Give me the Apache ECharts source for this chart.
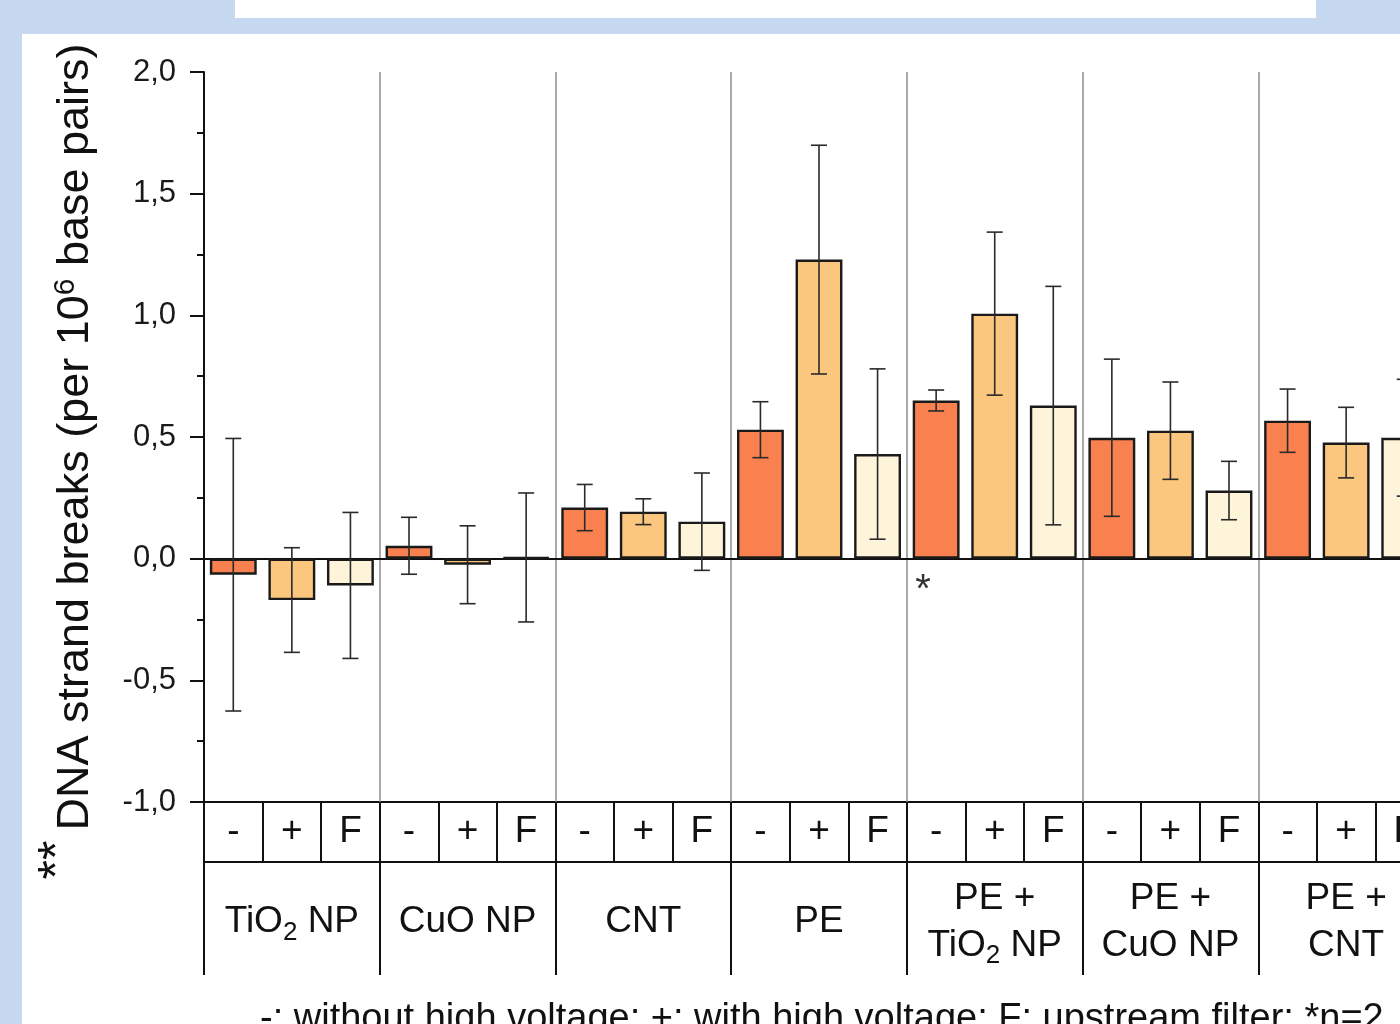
<!DOCTYPE html>
<html>
<head>
<meta charset="utf-8">
<script src="https://cdn.jsdelivr.net/npm/echarts@6/dist/echarts.min.js"></script>
<style>
html,body{margin:0;padding:0;overflow:hidden;background:#c6d9f1;}
#chart{position:absolute;left:0;top:0;width:1460px;height:1024px;}
</style>
</head>
<body>
<div id="chart"></div>
<script>
// ---- data ----
const groups = ['TiO2 NP', 'CuO NP', 'CNT', 'PE', 'PE + TiO2 NP', 'PE + CuO NP', 'PE + CNT'];
const conditions = ['-', '+', 'F'];
const meanMinus  = [-0.066, 0.053, 0.21, 0.53, 0.65, 0.497, 0.567];
const meanPlus   = [-0.17, -0.025, 0.193, 1.229, 1.007, 0.526, 0.477];
const meanFilter = [-0.11, 0.005, 0.152, 0.43, 0.629, 0.28, 0.497];
const errMinus   = [0.56, 0.117, 0.095, 0.115, 0.043, 0.323, 0.13];
const errPlus    = [0.215, 0.16, 0.053, 0.47, 0.335, 0.2, 0.145];
const errFilter  = [0.3, 0.265, 0.2, 0.35, 0.49, 0.12, 0.24];
const starredIndex = 12; // PE + TiO2 NP, "-" : *n=2
const yAxisName = 'DNA strand breaks (per 10{sup|6} base pairs)';
const caption = '-: without high voltage; +: with high voltage; F: upstream filter; *n=2';

// ---- build ----
const FONT = 'Liberation Sans, Arial, Helvetica, sans-serif';
const colors = ['#f9814f', '#fbc77f', '#fdf4da'];
const means = [meanMinus, meanPlus, meanFilter];
const errs = [errMinus, errPlus, errFilter];
const cats = [], barData = [], errData = [];
groups.forEach((g, gi) => {
  conditions.forEach((c, ci) => {
    const idx = cats.length;
    cats.push(g + ' ' + c);
    const v = means[ci][gi], e = errs[ci][gi];
    const item = { value: v, itemStyle: { color: colors[ci] } };
    if (idx === starredIndex) {
      item.label = { show: true, formatter: '*', position: 'bottom', distance: 12, offset: [-13, 0],
        fontSize: 40, color: '#333', fontFamily: FONT };
    }
    barData.push(item);
    errData.push([idx, v - e, v + e]);
  });
});
const condCats = cats.map((_, i) => conditions[i % 3]);

const chart = echarts.init(document.getElementById('chart'));
const gridLeft = 204, gridW = 1230;
chart.setOption({
  backgroundColor: '#c6d9f1',
  animation: false,
  textStyle: { fontFamily: FONT },
  graphic: [
    { type: 'rect', shape: { x: 22, y: 34, width: 1440, height: 990 }, style: { fill: '#ffffff' }, z: -10 },
    { type: 'rect', shape: { x: 235, y: 0, width: 1081, height: 18 }, style: { fill: '#ffffff' }, z: -10 },
    { type: 'text', x: 59, y: 860, rotation: Math.PI / 2,
      style: { text: '**', font: '50px ' + FONT, fill: '#111', textAlign: 'center', textVerticalAlign: 'middle' } }
  ],
  title: {
    text: caption, left: 255, top: 996,
    textStyle: { fontSize: 38, fontWeight: 'normal', color: '#111', fontFamily: FONT }
  },
  grid: [
    { left: gridLeft, top: 72, width: gridW, height: 730 },
    { left: gridLeft, top: 802, width: gridW, height: 60, show: true, borderColor: '#111', borderWidth: 2, backgroundColor: 'transparent' },
    { left: gridLeft, top: 862, width: gridW, height: 113 }
  ],
  xAxis: [
    {
      gridIndex: 0, type: 'category', data: cats,
      axisLine: { onZero: true, lineStyle: { color: '#111', width: 2 } },
      axisTick: { show: false }, axisLabel: { show: false },
      splitLine: { show: true, interval: (i) => i % 3 === 0, lineStyle: { color: '#8c8c8c', width: 1.5 } }
    },
    {
      gridIndex: 1, type: 'category', data: condCats, position: 'bottom',
      axisLine: { show: false }, axisTick: { show: false },
      axisLabel: { show: true, interval: 0, margin: -30, verticalAlign: 'middle', fontSize: 37, color: '#111', fontFamily: FONT },
      splitLine: { show: true, interval: 0, lineStyle: { color: '#111', width: 2 } }
    },
    {
      gridIndex: 2, type: 'category', data: groups, position: 'bottom',
      axisLine: { show: false }, axisTick: { show: false },
      axisLabel: {
        show: true, interval: 0, margin: -53, verticalAlign: 'middle', align: 'center',
        fontSize: 37, lineHeight: 47, color: '#111', fontFamily: FONT,
        formatter: (v) => v.replace('PE + ', 'PE +\n').replace('TiO2', 'TiO{sub|2}'),
        rich: { sub: { fontSize: 26, lineHeight: 22, verticalAlign: 'bottom', color: '#111', fontFamily: FONT } }
      },
      splitLine: { show: true, interval: 0, lineStyle: { color: '#111', width: 2 } }
    }
  ],
  yAxis: [
    {
      gridIndex: 0, type: 'value', min: -1, max: 2, interval: 0.5,
      axisLine: { show: true, lineStyle: { color: '#111', width: 2 } },
      axisTick: { show: true, length: 14, lineStyle: { color: '#111', width: 2 } },
      minorTick: { show: true, splitNumber: 2, length: 7, lineStyle: { color: '#111', width: 2 } },
      splitLine: { show: false },
      axisLabel: { margin: 28, fontSize: 31, color: '#1a1a1a', fontFamily: FONT,
        formatter: (v) => v.toFixed(1).replace('.', ',') },
      name: yAxisName, nameLocation: 'middle', nameGap: 103,
      nameTextStyle: { fontSize: 45, color: '#111', fontFamily: FONT, lineHeight: 50,
        rich: { sup: { fontSize: 30, lineHeight: 30, verticalAlign: 'top', color: '#111', fontFamily: FONT } } }
    },
    { gridIndex: 1, type: 'value', show: false },
    { gridIndex: 2, type: 'value', show: false }
  ],
  series: [
    {
      type: 'bar', xAxisIndex: 0, yAxisIndex: 0, data: barData, barWidth: '80%',
      itemStyle: { borderColor: '#1a1a1a', borderWidth: 2.4 }, z: 3
    },
    {
      type: 'custom', xAxisIndex: 0, yAxisIndex: 0, data: errData, z: 5,
      encode: { x: 0, y: [1, 2] },
      renderItem: (params, api) => {
        const x = api.value(0);
        const pHi = api.coord([x, api.value(2)]);
        const pLo = api.coord([x, api.value(1)]);
        const hw = 8;
        const st = { stroke: '#2a2a2a', lineWidth: 1.6 };
        return { type: 'group', children: [
          { type: 'line', shape: { x1: pHi[0], y1: pHi[1], x2: pLo[0], y2: pLo[1] }, style: st },
          { type: 'line', shape: { x1: pHi[0] - hw, y1: pHi[1], x2: pHi[0] + hw, y2: pHi[1] }, style: st },
          { type: 'line', shape: { x1: pLo[0] - hw, y1: pLo[1], x2: pLo[0] + hw, y2: pLo[1] }, style: st }
        ] };
      }
    }
  ]
});
</script>
</body>
</html>
